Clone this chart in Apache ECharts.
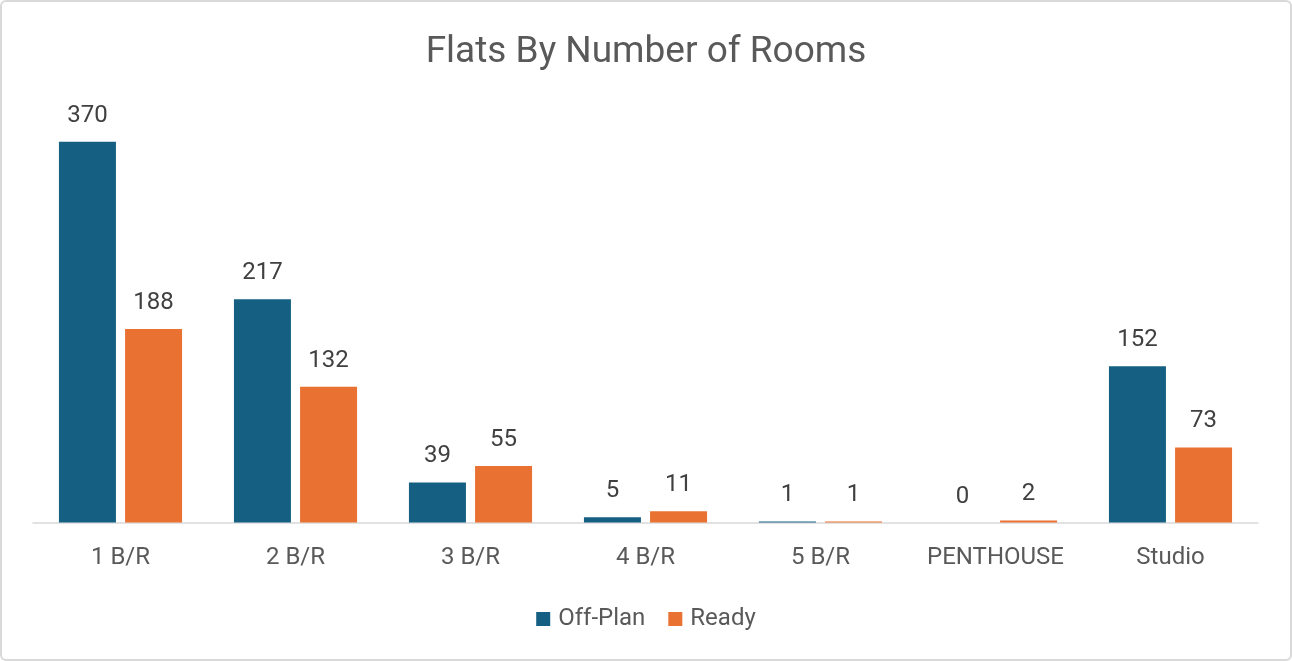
<!DOCTYPE html>
<html>
<head>
<meta charset="utf-8">
<script src="https://cdn.jsdelivr.net/npm/echarts@6/dist/echarts.min.js"></script>
<style>
html,body{margin:0;padding:0;background:#fff;}
#frame{position:absolute;left:0;top:0;width:1288px;height:657px;border:2px solid #d9d9d9;border-radius:6px;background:#fff;}
#chart{position:absolute;left:-2px;top:-2px;width:1292px;height:661px;}
</style>
</head>
<body>
<div id="frame"><div id="chart"></div></div>
<script>
const categories = ['1 B/R', '2 B/R', '3 B/R', '4 B/R', '5 B/R', 'PENTHOUSE', 'Studio'];
const offPlan = [370, 217, 39, 5, 1, 0, 152];
const ready = [188, 132, 55, 11, 1, 2, 73];

const chart = echarts.init(document.getElementById('chart'), null, {renderer: 'canvas'});
const fontFam = 'Roboto, "Open Sans", sans-serif';
const label = {show: true, position: 'top', distance: 14, color: '#404040', fontSize: 24, fontFamily: fontFam};
chart.setOption({
  animation: false,
  title: {
    text: 'Flats By Number of Rooms', left: 'center', top: 29,
    textStyle: {color: '#595959', fontSize: 37, fontWeight: 'normal', fontFamily: fontFam}
  },
  legend: {
    top: 602, left: 'center', itemWidth: 14, itemHeight: 14, itemGap: 23,
    icon: 'rect',
    textStyle: {color: '#595959', fontSize: 24, fontFamily: fontFam, padding: [0, 0, 0, 3]},
    data: ['Off-Plan', 'Ready']
  },
  grid: {left: 33, right: 34, top: 111, bottom: 661 - 522.5},
  xAxis: {
    type: 'category', data: categories,
    axisLine: {lineStyle: {color: '#d9d9d9', width: 1.5}},
    axisTick: {show: false},
    axisLabel: {color: '#595959', fontSize: 24, fontFamily: fontFam, margin: 23, interval: 0}
  },
  yAxis: {type: 'value', min: 0, max: 400, show: false, splitLine: {show: false}},
  series: [
    {name: 'Off-Plan', type: 'bar', data: offPlan, barWidth: 57, barGap: '16%',
     itemStyle: {color: '#156082'}, label: label},
    {name: 'Ready', type: 'bar', data: ready, barWidth: 57,
     itemStyle: {color: '#e97132'}, label: label}
  ]
});
</script>
</body>
</html>
